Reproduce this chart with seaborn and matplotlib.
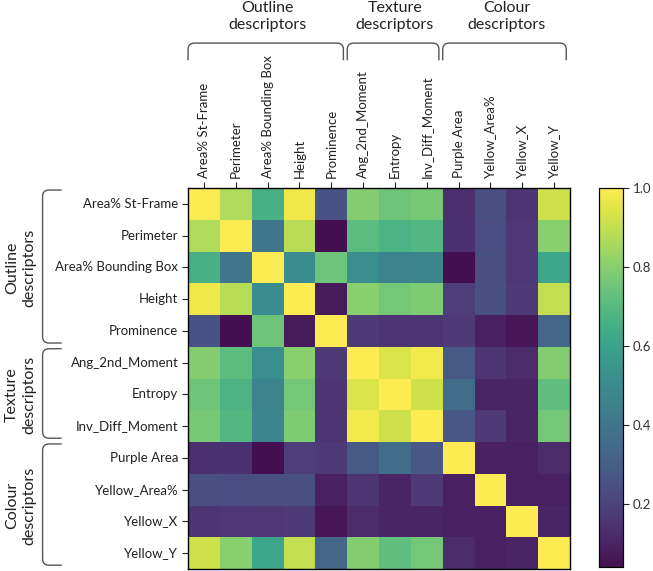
import numpy as np
import pandas as pd
import matplotlib.pyplot as plt
from matplotlib.colors import ListedColormap
from matplotlib.path import Path
from matplotlib.patches import PathPatch
import seaborn as sns

# descriptor names, in matrix order
descriptors = [
    "Area% St-Frame", "Perimeter", "Area% Bounding Box", "Height", "Prominence",
    "Ang_2nd_Moment", "Entropy", "Inv_Diff_Moment",
    "Purple Area", "Yellow_Area%", "Yellow_X", "Yellow_Y",
]
group_names = ["Outline\ndescriptors", "Texture\ndescriptors", "Colour\ndescriptors"]
group_sizes = [5, 3, 4]

# correlation values (symmetric)
corr_rows = [
    [1.00, 0.87, 0.66, 0.97, 0.25, 0.79, 0.75, 0.77, 0.13, 0.24, 0.15, 0.92],
    [0.87, 1.00, 0.40, 0.88, 0.04, 0.71, 0.67, 0.69, 0.14, 0.23, 0.16, 0.80],
    [0.66, 0.40, 1.00, 0.50, 0.75, 0.51, 0.46, 0.47, 0.04, 0.24, 0.16, 0.61],
    [0.97, 0.88, 0.50, 1.00, 0.07, 0.80, 0.76, 0.78, 0.18, 0.24, 0.17, 0.90],
    [0.25, 0.04, 0.75, 0.07, 1.00, 0.17, 0.15, 0.15, 0.17, 0.09, 0.06, 0.33],
    [0.79, 0.71, 0.51, 0.80, 0.17, 1.00, 0.94, 0.98, 0.28, 0.15, 0.12, 0.79],
    [0.75, 0.67, 0.46, 0.76, 0.15, 0.94, 1.00, 0.92, 0.36, 0.10, 0.10, 0.72],
    [0.77, 0.69, 0.47, 0.78, 0.15, 0.98, 0.92, 1.00, 0.27, 0.17, 0.10, 0.76],
    [0.13, 0.14, 0.04, 0.18, 0.17, 0.28, 0.36, 0.27, 1.00, 0.09, 0.09, 0.12],
    [0.24, 0.23, 0.24, 0.24, 0.09, 0.15, 0.10, 0.17, 0.09, 1.00, 0.09, 0.09],
    [0.15, 0.16, 0.16, 0.17, 0.06, 0.12, 0.10, 0.10, 0.09, 0.09, 1.00, 0.10],
    [0.92, 0.80, 0.61, 0.90, 0.33, 0.79, 0.72, 0.76, 0.12, 0.09, 0.10, 1.00],
]

corr = pd.DataFrame(corr_rows, index=descriptors, columns=descriptors)

sns.set_style("white")
plt.rcParams["font.family"] = ["Lato", "DejaVu Sans"]

# viridis, slightly washed out like the original figure
vir = np.array(sns.color_palette("viridis", 256))
lum = (vir @ np.array([0.299, 0.587, 0.114]))[:, None]
washed = ListedColormap(np.clip(0.78 * vir + 0.22 * lum + 0.03, 0, 1))

fig = plt.figure(figsize=(6.53, 5.71), dpi=100)
ax = fig.add_axes([0.288, 0.0035, 0.585, 0.667])
cax = fig.add_axes([0.917, 0.007, 0.0368, 0.664])

sns.heatmap(corr, cmap=washed, ax=ax, cbar_ax=cax)

text_col = "#222222"
ax.xaxis.tick_top()
ax.tick_params(axis="both", which="both", length=4, width=0.8, color="#222222",
               labelsize=9.5, labelcolor=text_col, pad=3)
ax.tick_params(axis="x", bottom=False, top=True)
ax.tick_params(axis="y", left=True)
plt.setp(ax.get_xticklabels(), rotation=90, ha="center", va="bottom")
plt.setp(ax.get_yticklabels(), rotation=0)
for s in ax.spines.values():
    s.set_visible(True)
    s.set_color("black")
    s.set_linewidth(1.0)

cax.tick_params(length=4, width=0.8, labelsize=9.5, labelcolor="#333333", pad=3)
for s in cax.spines.values():
    s.set_visible(True)
    s.set_color("black")
    s.set_linewidth(0.8)


def bracket(ax, a, b, line, tip, vertical=False, r=0.2):
    # rounded square bracket running from a to b, tips pointing at the matrix
    d = r if tip > line else -r
    pts = [(a, tip), (a, line + d), (a, line), (a + r, line),
           (b - r, line), (b, line), (b, line + d), (b, tip)]
    if vertical:
        pts = [(y, x) for x, y in pts]
    codes = [Path.MOVETO, Path.LINETO, Path.CURVE3, Path.CURVE3,
             Path.LINETO, Path.CURVE3, Path.CURVE3, Path.LINETO]
    ax.add_patch(PathPatch(Path(pts, codes), fill=False, edgecolor="#555555",
                           linewidth=1.0, clip_on=False))


start = 0
for name, size in zip(group_names, group_sizes):
    end = start + size
    mid = (start + end) / 2
    # top
    bracket(ax, start + 0.0, end - 0.12, -4.57, -4.03)
    ax.text(mid, -5.4, name, ha="center", va="center", fontsize=11.5,
            color=text_col, linespacing=1.25, clip_on=False)
    # left
    bracket(ax, start + 0.06, end - 0.12, -4.57, -3.97, vertical=True)
    ax.text(-5.26, mid, name, ha="center", va="center", fontsize=11.5,
            color=text_col, rotation=90, linespacing=1.25, clip_on=False)
    start = end

fig.savefig("out.png", dpi=100)
plt.close()
